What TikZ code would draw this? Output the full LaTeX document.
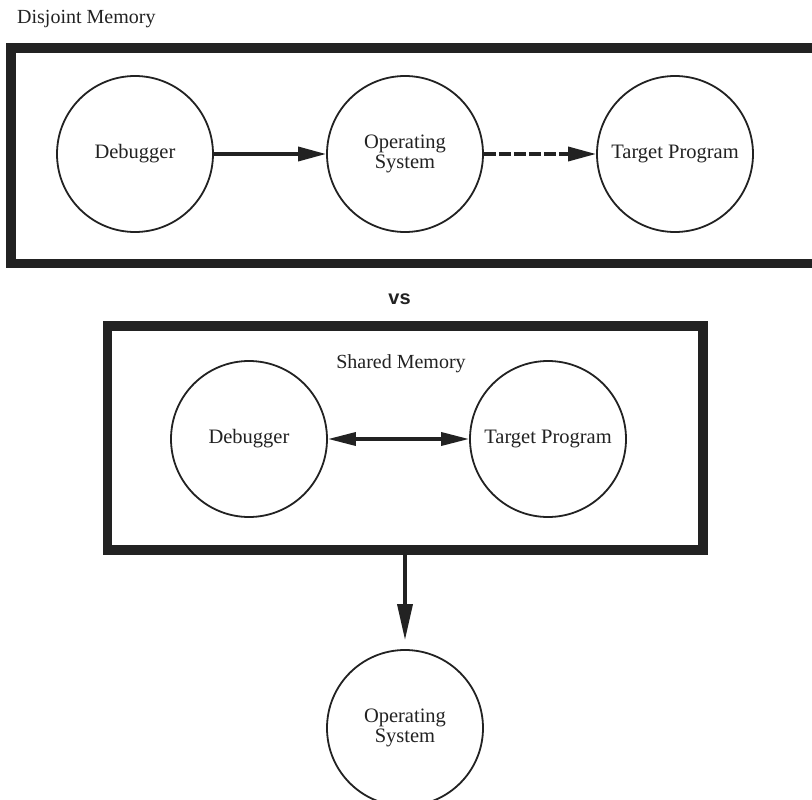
\documentclass[tikz,border=0pt]{standalone}
\usepackage{fontspec}
\setmainfont{Liberation Serif}
\setsansfont{Liberation Sans}
\usetikzlibrary{arrows.meta}
\definecolor{ink}{HTML}{222222}
\begin{document}
\begin{tikzpicture}[x=1pt,y=-1pt,
  membox/.style={draw=ink, line width=9.5pt},
  proc/.style={circle, draw=ink, text=ink, line width=1.8pt, minimum size=156pt,
    inner sep=0pt, align=center, font=\fontsize{20.5}{20.5}\selectfont},
  titletext/.style={text=ink, inner sep=0pt, font=\fontsize{20}{22}\selectfont},
  vstext/.style={text=ink, inner sep=0pt, font=\sffamily\bfseries\fontsize{20}{22}\selectfont},
  flow/.style={draw=ink, line width=3.5pt, -{Triangle[length=28pt,width=14pt]}},
  dashflow/.style={flow, dash pattern=on 12pt off 3pt},
  bothflow/.style={draw=ink, line width=3.5pt,
    {Triangle[length=28pt,width=13pt]}-{Triangle[length=28pt,width=13pt]}},
  downflow/.style={draw=ink, line width=3.5pt, -{Triangle[length=36pt,width=15pt]}}
]
\useasboundingbox (0,0) rectangle (812,800);
\fill[white] (0,0) rectangle (812,800);
\clip (0,0) rectangle (812,800);

% ---- disjoint memory: debugger -> OS -> target ----
\node[titletext, anchor=base west] (djtitle) at (17,24) {Disjoint Memory};
\draw[membox] (11,48) rectangle (840,263.5);

\node[proc] (deb1) at (135,154) {Debugger};
\node[proc] (os1)  at (405,154) {Operating\\System};
\node[proc] (tp1)  at (675,154) {Target Program};

\draw[flow] (deb1) -- (os1);
\draw[dashflow] (os1) -- (tp1);

\node[vstext, anchor=base] (vs) at (399.5,304) {vs};

% ---- shared memory: debugger <-> target, OS outside ----
\node[membox, rectangle, minimum width=595.5pt, minimum height=224pt,
  inner sep=0pt] (shared) at (405.25,438) {};
\node[titletext, anchor=base] (shtitle) at (401,368) {Shared Memory};

\node[proc] (deb2) at (249,439) {Debugger};
\node[proc] (tp2)  at (548,439) {Target Program};
\draw[bothflow] (deb2) -- (tp2);

\node[proc] (os2) at (405,728) {Operating\\System};
\draw[downflow, shorten >=9pt] (shared.south -| os2.north) -- (os2.north);
\end{tikzpicture}
\end{document}
